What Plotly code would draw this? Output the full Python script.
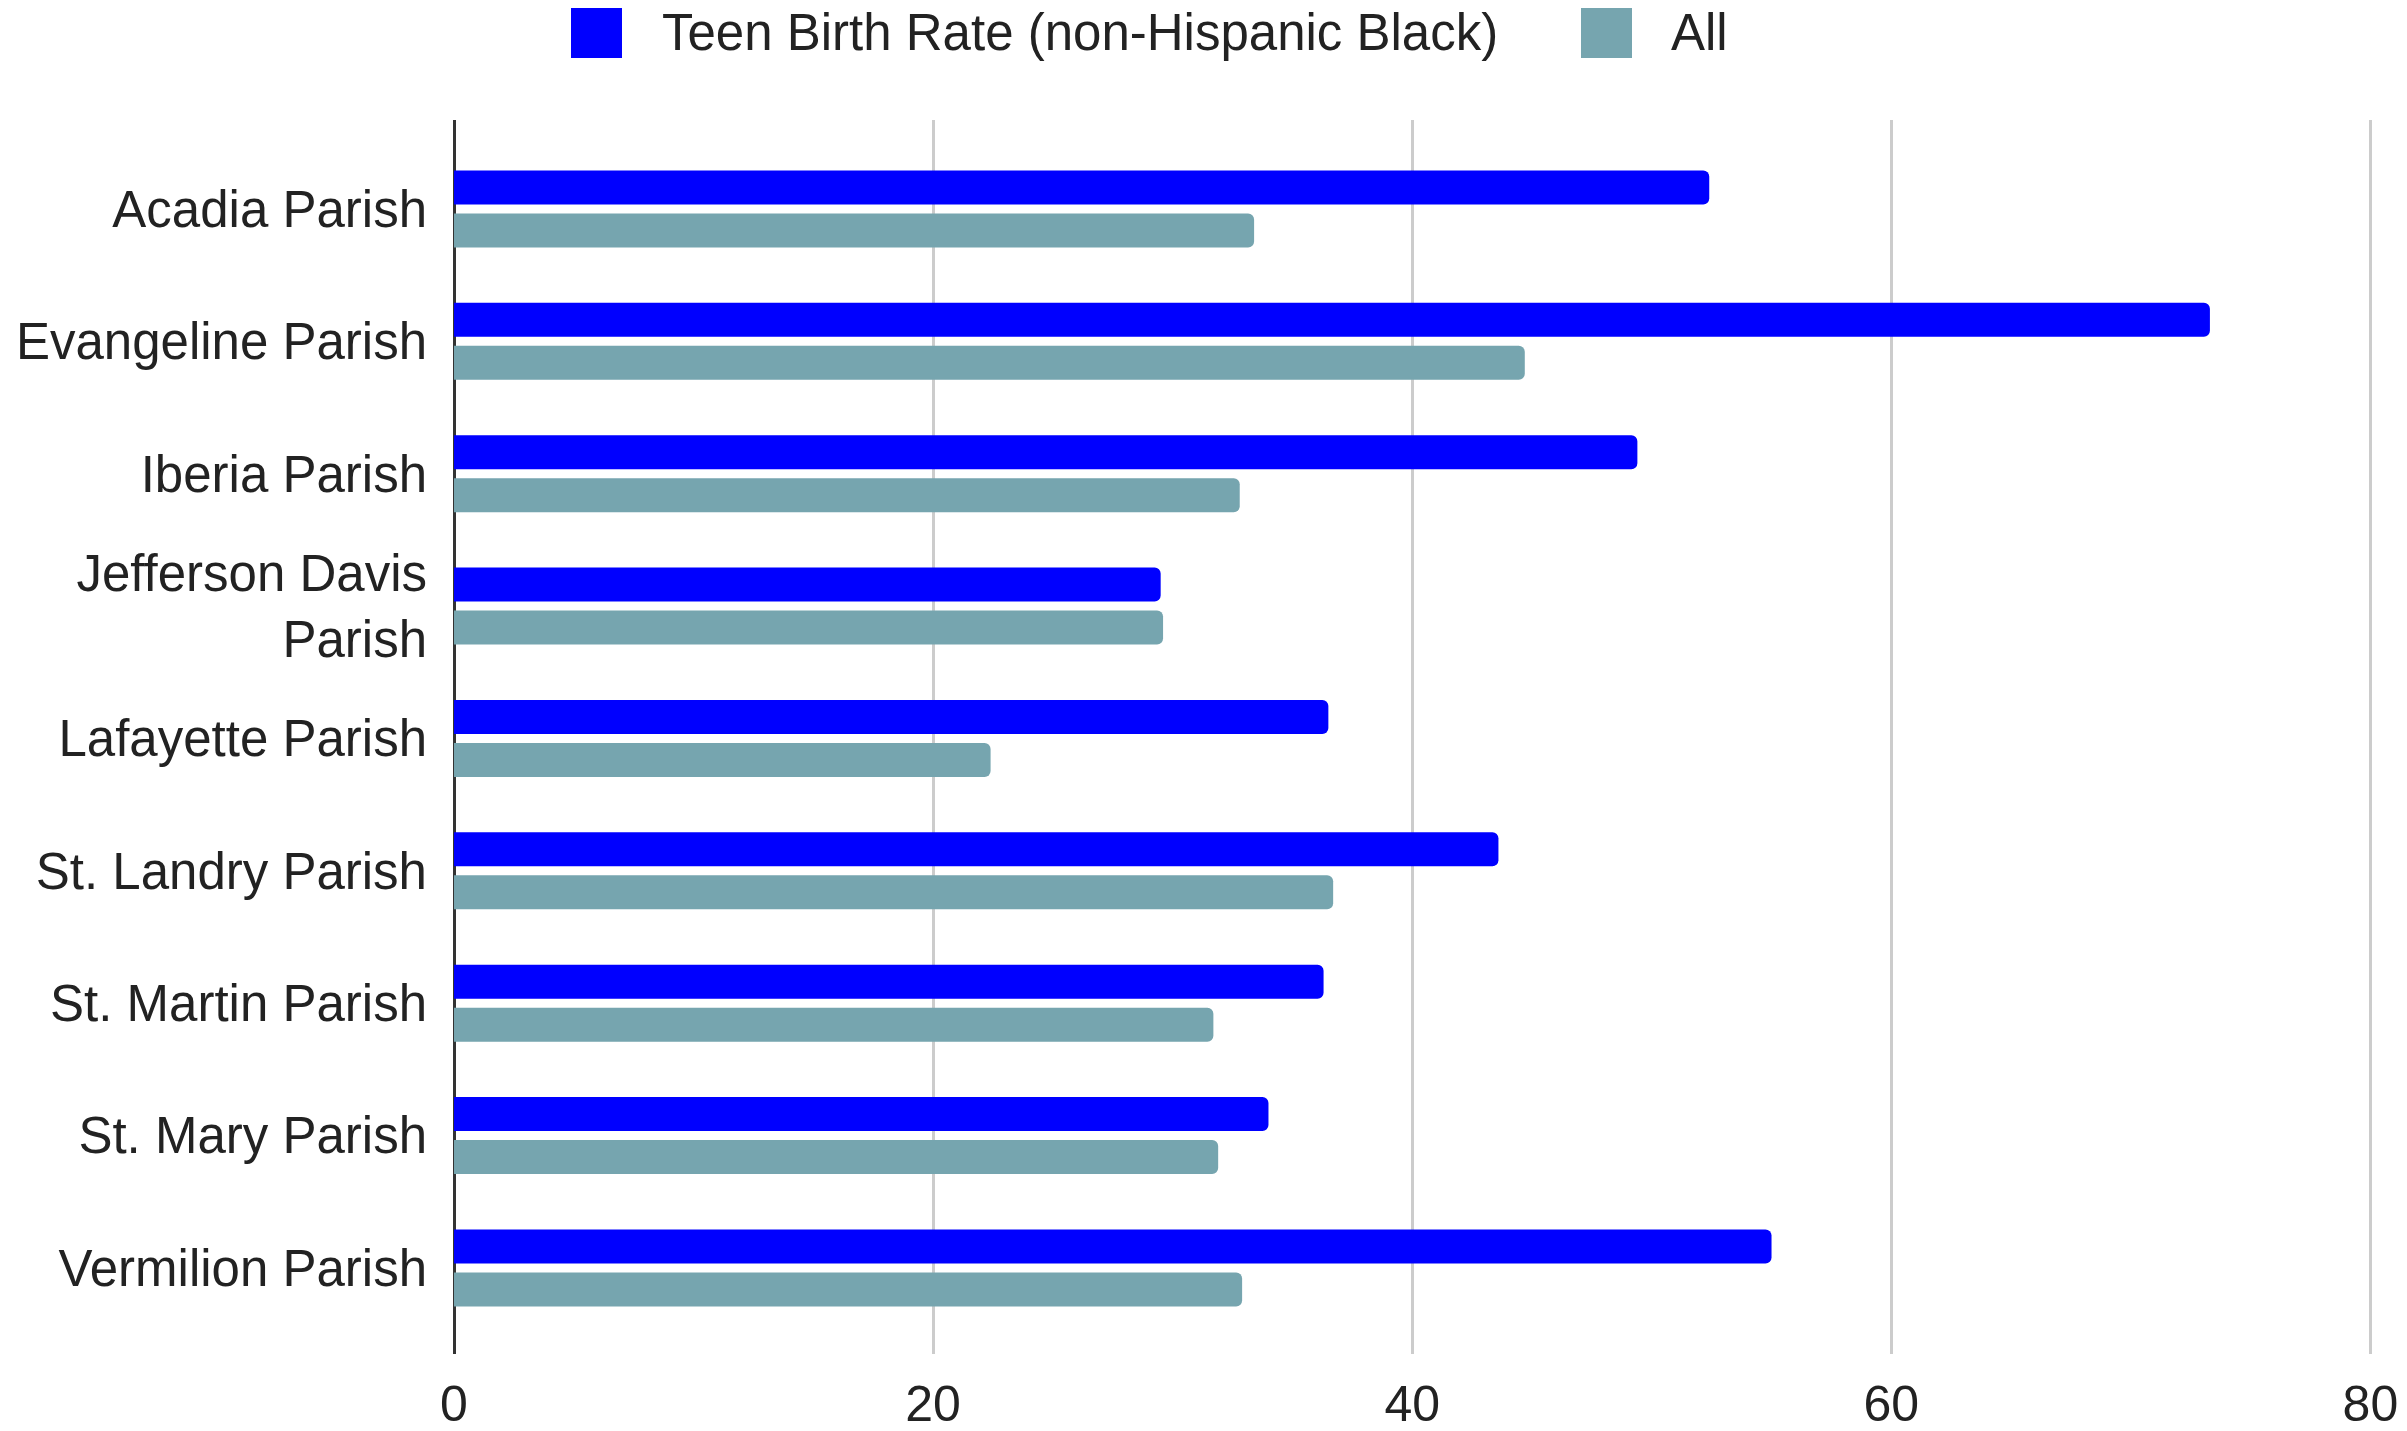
import plotly.graph_objects as go

categories = ["Acadia Parish", "Evangeline Parish", "Iberia Parish", "Jefferson Davis<br>Parish",
              "Lafayette Parish", "St. Landry Parish", "St. Martin Parish", "St. Mary Parish",
              "Vermilion Parish"]
teen_black = [52.4, 73.3, 49.4, 29.5, 36.5, 43.6, 36.3, 34.0, 55.0]
all_rate = [33.4, 44.7, 32.8, 29.6, 22.4, 36.7, 31.7, 31.9, 32.9]
series_names = ["Teen Birth Rate (non-Hispanic Black)", "All"]
colors = ["#0000FF", "#76A5AF"]
x_ticks = [0, 20, 40, 60, 80]

W, H = 2407, 1431
L, R, T, B = 454, 2374, 120, 1354
X_MAX = 80.15

fig = go.Figure()
for name, vals, col in zip(series_names, [teen_black, all_rate], colors):
    fig.add_trace(go.Bar(y=categories, x=vals, name=name, orientation="h",
                         marker=dict(color=col, line=dict(width=0), cornerradius=6),
                         showlegend=False))

font = "Liberation Sans, Arial, sans-serif"

def px_x(p):
    return (p - L) / (R - L)

def px_y(p):
    return (B - p) / (B - T)

# legend drawn as shapes + text
legend_items = [(571, 622, 660), (1581, 1632, 1669)]
for (x0, x1, tx), name, col in zip(legend_items, series_names, colors):
    fig.add_shape(type="rect", xref="paper", yref="paper",
                  x0=px_x(x0), x1=px_x(x1), y0=px_y(58), y1=px_y(8),
                  fillcolor=col, line=dict(width=0))
    fig.add_annotation(xref="paper", yref="paper", x=px_x(tx), y=px_y(32),
                       text=name, showarrow=False, xanchor="left", yanchor="middle",
                       font=dict(family=font, size=51, color="#222222"))

fig.update_layout(
    width=W, height=H,
    margin=dict(l=L, r=W - R, t=T, b=H - B, autoexpand=False),
    plot_bgcolor="white", paper_bgcolor="white",
    bargap=0.35, bargroupgap=0.21, barmode="group",
    font=dict(family=font, size=51, color="#222222"),
    xaxis=dict(range=[0, X_MAX], tickvals=x_ticks, showgrid=True, gridcolor="#CCCCCC",
               gridwidth=3, zeroline=True, zerolinecolor="#333333", zerolinewidth=3,
               showline=False, ticks="", ticklabelstandoff=16, automargin=False,
               tickfont=dict(family=font, size=50, color="#222222")),
    yaxis=dict(categoryorder="array", categoryarray=categories, range=[8.65, -0.672],
               showgrid=False, zeroline=False, showline=False, ticks="",
               ticklabelstandoff=26, automargin=False,
               tickfont=dict(family=font, size=51, color="#222222")),
)

fig.write_html("out.html", config={"displayModeBar": False},
               post_script="document.body.style.margin='0';document.body.style.overflow='hidden';")
